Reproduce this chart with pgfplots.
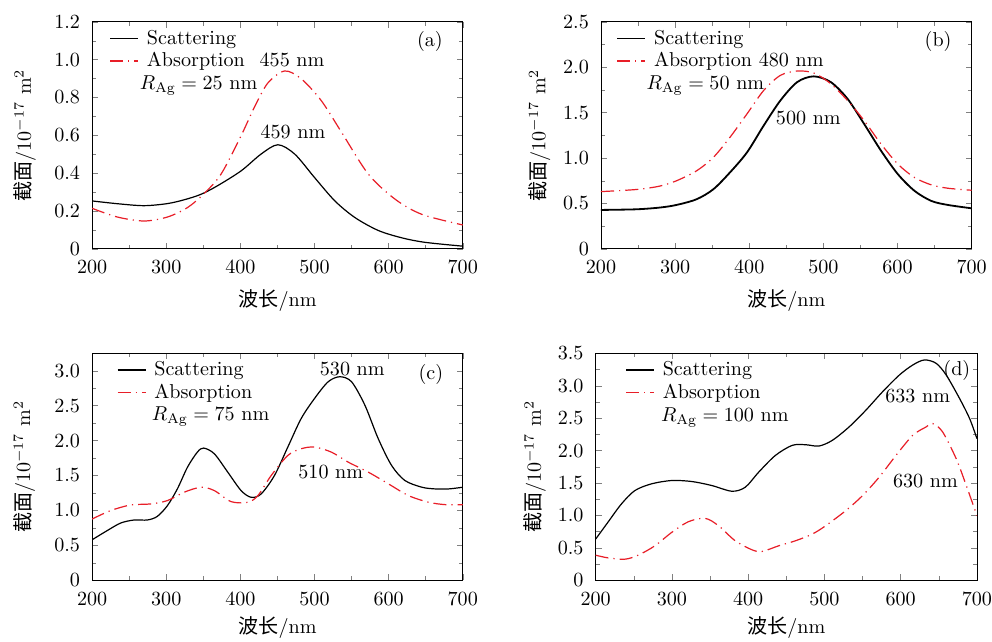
\documentclass[border=0pt]{standalone}
\usepackage{fontspec}
\newfontfamily\cjk{Noto Sans CJK SC}
\usepackage{pgfplots}
\pgfplotsset{compat=1.18}
\usepgfplotslibrary{groupplots}

\definecolor{absred}{RGB}{232,30,40}

\pgfplotsset{
  sca/.style={black, line width=0.6pt, smooth},
  abso/.style={absred, line width=0.6pt, smooth, dash pattern=on 6.5pt off 2.5pt on 0.6pt off 2.5pt},
  panel/.style={
    scale only axis, width=184.5pt, height=113pt,
    xmin=200, xmax=700, xtick={200,300,...,700},
    minor x tick num=1, minor y tick num=1,
    tick align=inside,
    major tick length=3pt, minor tick length=2pt,
    xticklabel style={yshift=-2.5pt},
    yticklabel style={xshift=-2.5pt},
    xlabel={{\cjk 波长}/nm},
    ylabel={{\cjk 截面}/$10^{-17}$ m$^2$},
    xlabel style={at={(axis description cs:0.5,-0.227)}, anchor=center},
    legend cell align=left,
    legend image code/.code={\draw[#1] (0pt,0pt) -- (14pt,0pt);},
    legend style={draw=none, fill=none, anchor=north west, inner sep=0pt,
      nodes={inner sep=1pt}, row sep=0.6pt, column sep=3pt},
  },
}

\begin{document}
\begin{tikzpicture}
\begin{groupplot}[group style={group size=2 by 2, horizontal sep=68.8pt, vertical sep=52pt}, panel]

\nextgroupplot[ymin=0, ymax=1.2, ytick={0,0.2,...,1.2}, yticklabels={0,0.2,0.4,0.6,0.8,1.0,1.2},
  ylabel style={at={(axis description cs:-0.181,0.5)}, anchor=center},
  legend style={at={(axis description cs:0.046,0.975)}}]
\addplot[sca] coordinates {(200,0.253) (235,0.238) (270,0.228) (301.6,0.239) (325,0.26) (346.8,0.288) (369,0.333) (401,0.412) (428,0.501) (450.7,0.550) (473.5,0.50) (500,0.377) (527.5,0.253) (554.6,0.165) (586,0.097) (617.8,0.058) (649.5,0.034) (700,0.014)};
\addlegendentry{Scattering}
\addplot[abso] coordinates {(200,0.214) (234,0.168) (270,0.147) (301.6,0.168) (328.7,0.218) (351,0.292) (374,0.395) (401,0.598) (419,0.749) (437,0.876) (459.7,0.94) (482,0.899) (509,0.784) (536.5,0.616) (572.6,0.395) (608.8,0.262) (644.9,0.182) (700,0.126)};
\addlegendentry{Absorption}
\node[anchor=west] at (axis cs:254.7,0.865) {$R_{\mathrm{Ag}}=25$ nm};
\node at (axis cs:469.7,1.0) {455 nm};
\node at (axis cs:471,0.616) {459 nm};
\node at (axis cs:655.7,1.094) {(a)};

\nextgroupplot[ymin=0, ymax=2.5, ytick={0,0.5,...,2.5}, yticklabels={0,0.5,1.0,1.5,2.0,2.5},
  ylabel style={at={(axis description cs:-0.166,0.5)}, anchor=center},
  legend style={at={(axis description cs:0.040,0.975)}}]
\addplot[sca, line width=0.9pt] coordinates {(200,0.428) (247.5,0.435) (279,0.454) (301.8,0.483) (329,0.546) (351.6,0.656) (374,0.841) (397,1.062) (419.5,1.357) (442,1.633) (464.7,1.836) (487,1.899) (510,1.836) (532.6,1.652) (555,1.375) (577.8,1.08) (600.5,0.822) (623,0.638) (645.7,0.527) (668,0.483) (700,0.446)};
\addlegendentry{Scattering}
\addplot[abso] coordinates {(200,0.63) (247.5,0.653) (279,0.69) (301.8,0.749) (329,0.859) (351.6,1.007) (374,1.228) (397,1.486) (419.5,1.744) (442,1.91) (464.7,1.958) (487,1.936) (510,1.818) (532.6,1.633) (555,1.412) (577.8,1.154) (600.5,0.933) (623,0.785) (645.7,0.704) (668,0.667) (700,0.645)};
\addlegendentry{Absorption}
\node[anchor=west] at (axis cs:252,1.80) {$R_{\mathrm{Ag}}=50$ nm};
\node at (axis cs:456.6,2.08) {480 nm};
\node at (axis cs:479.7,1.435) {500 nm};
\node at (axis cs:654.8,2.28) {(b)};

\nextgroupplot[ymin=0, ymax=3.25, ytick={0,0.5,...,3.0}, yticklabels={0,0.5,1.0,1.5,2.0,2.5,3.0},
  ylabel style={at={(axis description cs:-0.183,0.5)}, anchor=center},
  xlabel style={at={(axis description cs:0.5,-0.208)}},
  legend style={at={(axis description cs:0.066,0.975)}}]
\addplot[sca] coordinates {(200,0.58) (220,0.709) (238.4,0.819) (256.5,0.863) (274.5,0.863) (288,0.915) (301.6,1.069) (315,1.308) (328.7,1.62) (342,1.835) (350.4,1.893) (364.9,1.811) (383,1.548) (401,1.284) (414.6,1.188) (428,1.236) (446,1.5) (464,1.907) (482,2.315) (500,2.602) (518.4,2.842) (534.2,2.914) (550,2.842) (568,2.506) (586,2.027) (604,1.644) (622,1.428) (645,1.332) (663,1.308) (681,1.308) (700,1.332)};
\addlegendentry{Scattering}
\addplot[abso] coordinates {(200,0.877) (224.8,0.997) (252,1.078) (279,1.093) (301.6,1.141) (324,1.26) (346.8,1.332) (364.9,1.284) (387.5,1.126) (410,1.117) (423.6,1.212) (441.6,1.5) (464,1.787) (482,1.883) (500,1.907) (522.8,1.835) (545.4,1.692) (572.6,1.548) (599.8,1.38) (626.9,1.212) (654,1.117) (676.5,1.083) (700,1.083)};
\addlegendentry{Absorption}
\node[anchor=west] at (axis cs:270.9,2.34) {$R_{\mathrm{Ag}}=75$ nm};
\node at (axis cs:551,3.03) {530 nm};
\node at (axis cs:522,1.557) {510 nm};
\node at (axis cs:657,2.95) {(c)};

\nextgroupplot[width=189.8pt, ymin=0, ymax=3.5, ytick={0,0.5,...,3.5}, yticklabels={0,0.5,1.0,1.5,2.0,2.5,3.0,3.5},
  ylabel style={at={(axis description cs:-0.159,0.5)}, anchor=center},
  xlabel style={at={(axis description cs:0.5,-0.208)}},
  legend style={at={(axis description cs:0.077,0.975)}}]
\addplot[sca] coordinates {(200,0.635) (216,0.893) (233.8,1.177) (251.4,1.383) (273.3,1.487) (299.7,1.538) (326,1.523) (352.3,1.461) (378.7,1.373) (396.2,1.435) (413.8,1.667) (435.7,1.925) (457.7,2.08) (475.3,2.09) (492.8,2.07) (510.4,2.158) (532.3,2.364) (554.3,2.622) (576.2,2.906) (598.2,3.164) (615.8,3.319) (631.1,3.397) (646.5,3.345) (659.7,3.164) (677.2,2.803) (690.4,2.493) (700,2.184)};
\addlegendentry{Scattering}
\addplot[abso] coordinates {(200,0.387) (216,0.346) (238.2,0.325) (255.8,0.387) (277.7,0.532) (299.7,0.738) (321.6,0.903) (343.6,0.955) (361.1,0.841) (383,0.609) (405,0.47) (418.2,0.444) (440.1,0.532) (462,0.609) (484,0.712) (501.6,0.841) (528,1.074) (550,1.306) (571.8,1.59) (593.8,1.925) (615.8,2.235) (633.3,2.364) (642,2.416) (655,2.287) (672.8,1.874) (686,1.461) (700,0.996)};
\addlegendentry{Absorption}
\node[anchor=west] at (axis cs:276.4,2.51) {$R_{\mathrm{Ag}}=100$ nm};
\node at (axis cs:622.3,2.844) {633 nm};
\node at (axis cs:632.4,1.528) {630 nm};
\node at (axis cs:673.7,3.24) {(d)};

\end{groupplot}
\pgfresetboundingbox
\path ([shift={(-45.85pt,10.85pt)}]group c1r1.north west) rectangle ([shift={(7.5pt,-30.5pt)}]group c2r2.south east);
\end{tikzpicture}
\end{document}
